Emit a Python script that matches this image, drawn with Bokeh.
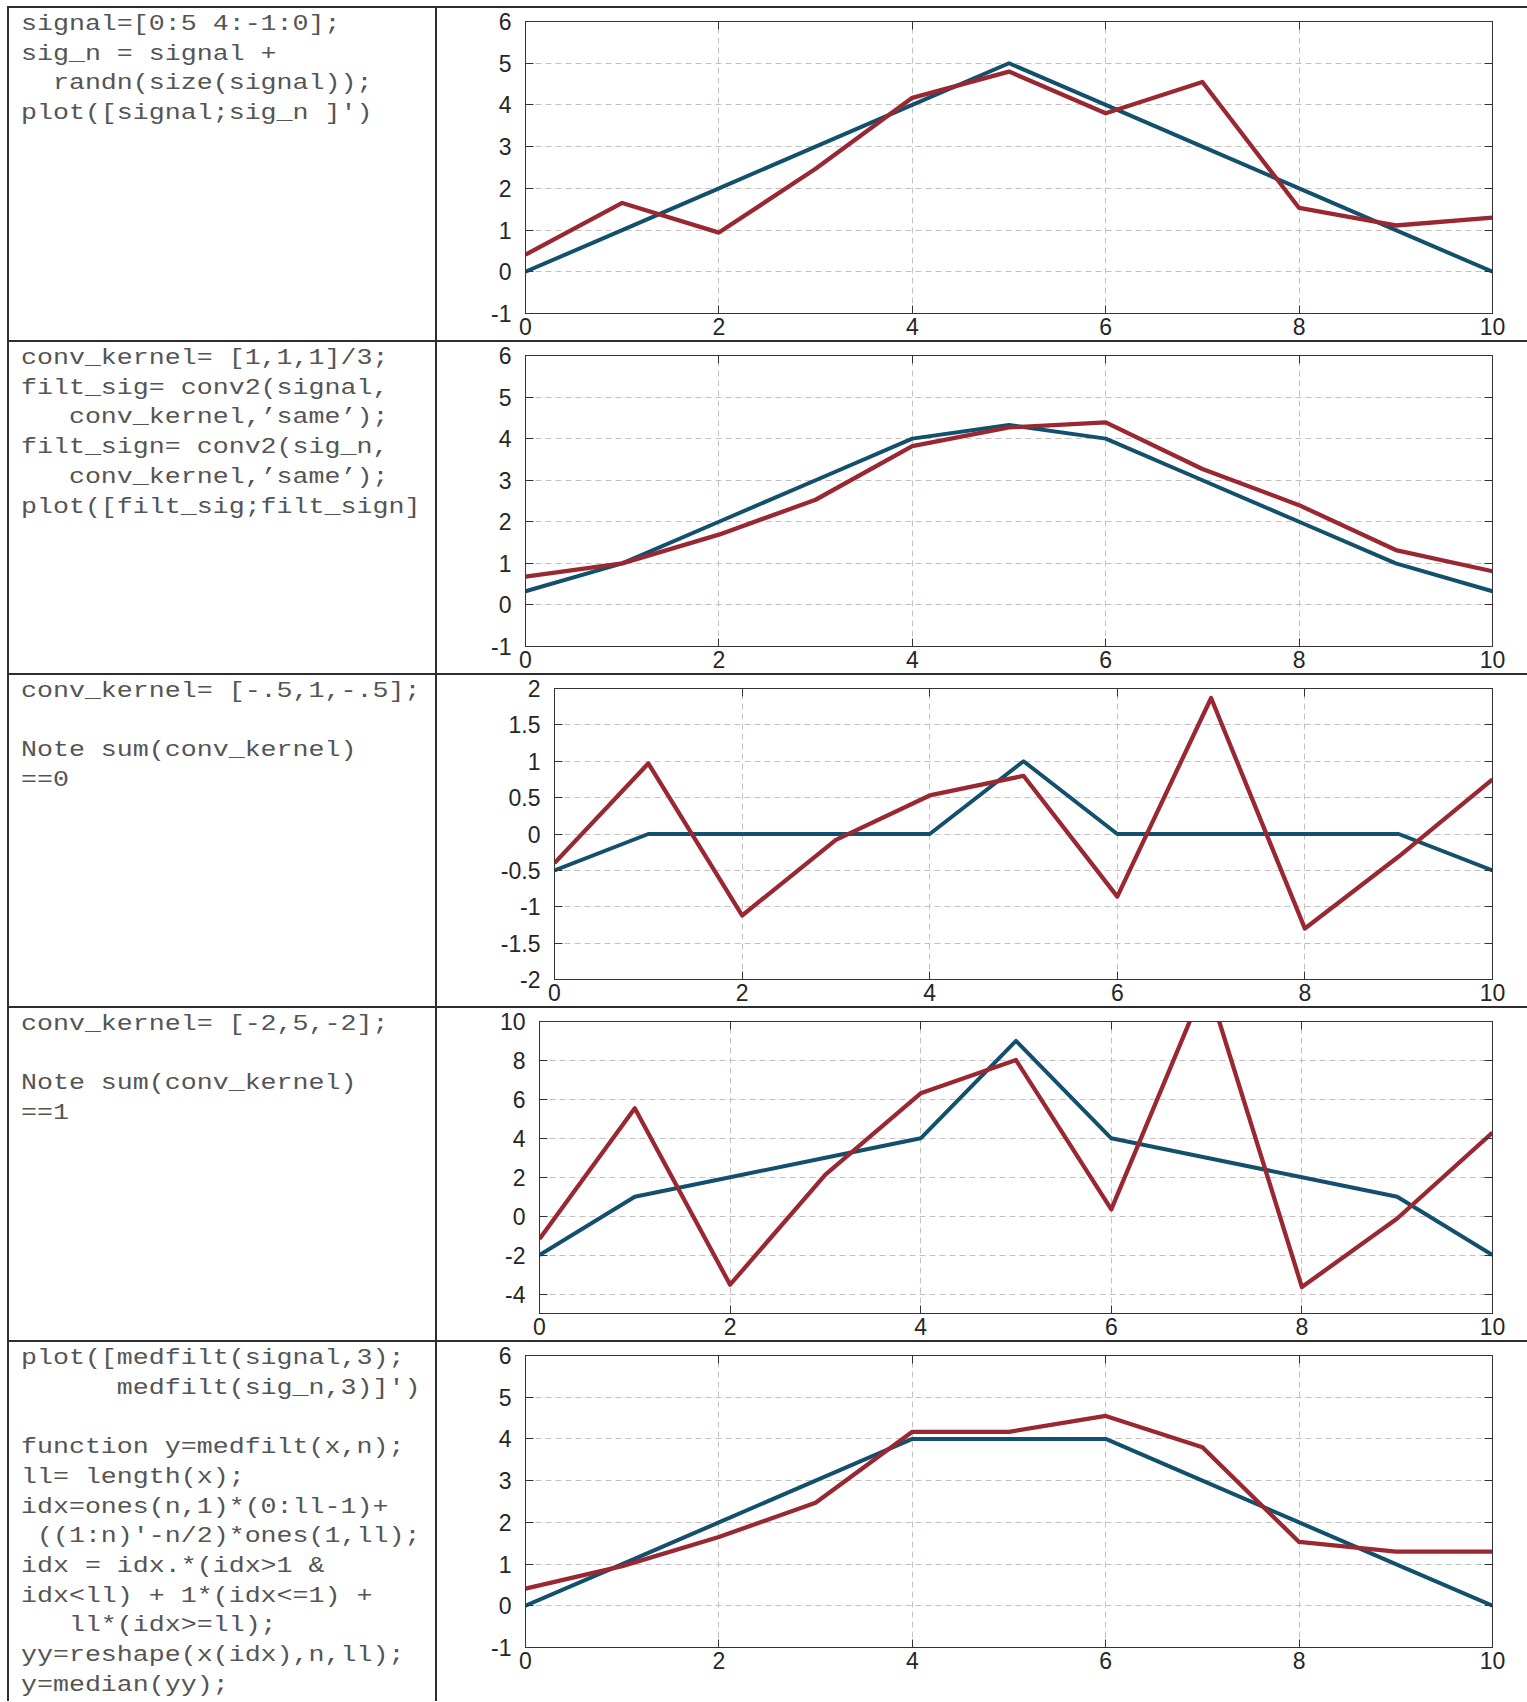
import html
from bokeh.plotting import figure
from bokeh.layouts import column, row
from bokeh.models import Range1d, FixedTicker, LinearAxis, Spacer, Div
from bokeh.embed import file_html
from bokeh.resources import INLINE

# ---------------- data ----------------
x_vals = [0, 1, 2, 3, 4, 5, 6, 7, 8, 9, 10]
x_ticks = [0, 2, 4, 6, 8, 10]

# row 1: signal and noisy signal
signal = [0, 1, 2, 3, 4, 5, 4, 3, 2, 1, 0]
sig_n = [0.41, 1.65, 0.94, 2.47, 4.17, 4.80, 3.80, 4.55, 1.53, 1.11, 1.30]
# row 2: smoothing kernel [1,1,1]/3
filt_sig = [0.33, 1.0, 2.0, 3.0, 4.0, 4.33, 4.0, 3.0, 2.0, 1.0, 0.33]
filt_sign = [0.68, 1.0, 1.69, 2.53, 3.82, 4.27, 4.39, 3.27, 2.40, 1.32, 0.81]
# row 3: kernel [-.5,1,-.5]
edge_sig = [-0.5, 0, 0, 0, 0, 1.0, 0, 0, 0, 0, -0.5]
edge_sign = [-0.40, 0.97, -1.12, -0.08, 0.53, 0.80, -0.86, 1.87, -1.30, -0.31, 0.75]
# row 4: kernel [-2,5,-2]
sharp_sig = [-2, 1, 2, 3, 4, 9, 4, 3, 2, 1, -2]
sharp_sign = [-1.17, 5.54, -3.52, 2.13, 6.31, 8.02, 0.35, 12.08, -3.64, -0.12, 4.29]
# row 5: median filter
med_sig = [0, 1, 2, 3, 4, 4, 4, 3, 2, 1, 0]
med_sign = [0.41, 0.95, 1.65, 2.47, 4.17, 4.17, 4.55, 3.80, 1.53, 1.30, 1.30]

y_ticks_sig = [-1, 0, 1, 2, 3, 4, 5, 6]
y_ticks_edge = [-2, -1.5, -1, -0.5, 0, 0.5, 1, 1.5, 2]
y_ticks_sharp = [-4, -2, 0, 2, 4, 6, 8, 10]

code_row1 = ["signal=[0:5 4:-1:0];",
             "sig_n = signal +",
             "  randn(size(signal));",
             "plot([signal;sig_n ]')"]
code_row2 = ["conv_kernel= [1,1,1]/3;",
             "filt_sig= conv2(signal,",
             "   conv_kernel,\u2019same\u2019);",
             "filt_sign= conv2(sig_n,",
             "   conv_kernel,\u2019same\u2019);",
             "plot([filt_sig;filt_sign]"]
code_row3 = ["conv_kernel= [-.5,1,-.5];",
             "",
             "Note sum(conv_kernel)",
             "==0"]
code_row4 = ["conv_kernel= [-2,5,-2];",
             "",
             "Note sum(conv_kernel)",
             "==1"]
code_row5 = ["plot([medfilt(signal,3);",
             "      medfilt(sig_n,3)]')",
             "",
             "function y=medfilt(x,n);",
             "ll= length(x);",
             "idx=ones(n,1)*(0:ll-1)+",
             " ((1:n)'-n/2)*ones(1,ll);",
             "idx = idx.*(idx>1 &",
             "idx<ll) + 1*(idx<=1) +",
             "   ll*(idx>=ll);",
             "yy=reshape(x(idx),n,ll);",
             "y=median(yy);"]

# ---------------- style ----------------
BLUE = "#12506e"
RED = "#9a2832"
BORDER = "#2e2e2e"
FRAME = "#333333"
GRID = "#c4c0c0"
LEFT_PAD = 7
TABLE_W = 1520
TEXT_W = 426
PLOT_W = 1090
TICK_FONT = "23px"


def hborder():
    return row(Spacer(width=LEFT_PAD, height=2),
               Spacer(width=TABLE_W, height=2, styles={"background-color": BORDER}))


def vborder(h):
    return Spacer(width=2, height=h, styles={"background-color": BORDER})


def text_cell(lines, h):
    body = "\n".join(html.escape(ln) for ln in lines)
    inner = ('<div style="margin:0;padding:2px 0 0 12px;">'
             '<div style="margin:0;padding:0;font-family:\'Liberation Mono\',monospace;'
             'font-size:22px;line-height:29.7px;color:#555555;white-space:pre;'
             'transform:scaleX(1.21);transform-origin:0 0;">%s</div></div>' % body)
    return Div(text=inner, width=TEXT_W, height=h, margin=0,
               styles={"background-color": "white", "overflow": "hidden"})


def fmt(v):
    return "%g" % v


def plot_cell(h, top, bottom, left, yr, yticks, blue, red):
    p = figure(width=PLOT_W, height=h, output_backend="svg", toolbar_location=None,
               x_range=Range1d(0, 10), y_range=Range1d(yr[0], yr[1]),
               min_border_left=left, min_border_right=35,
               min_border_top=top, min_border_bottom=bottom,
               background_fill_color="white", border_fill_color="white",
               outline_line_color=FRAME, outline_line_width=1)
    p.line(x_vals, blue, line_color=BLUE, line_width=4, line_join="round")
    p.line(x_vals, red, line_color=RED, line_width=4.3, line_join="round")

    p.xaxis.ticker = FixedTicker(ticks=x_ticks, minor_ticks=[])
    p.yaxis.ticker = FixedTicker(ticks=yticks, minor_ticks=[])
    p.xaxis.major_label_overrides = {t: fmt(t) for t in x_ticks}
    p.yaxis.major_label_overrides = {t: fmt(t) for t in yticks}
    for ax in (p.xaxis[0], p.yaxis[0]):
        ax.major_label_text_font = "Liberation Sans"
        ax.major_label_text_font_size = TICK_FONT
        ax.major_label_text_color = "#262626"
        ax.axis_line_color = FRAME
        ax.major_tick_line_color = FRAME
        ax.major_tick_in = 8
        ax.major_tick_out = 0
        ax.minor_tick_line_color = None
    p.xaxis.major_label_standoff = 4
    p.yaxis.major_label_standoff = 14

    for loc, tks in (("above", x_ticks), ("right", yticks)):
        ax = LinearAxis(ticker=FixedTicker(ticks=tks, minor_ticks=[]),
                        major_label_text_font_size="1px", major_label_text_color=None,
                        major_label_standoff=0,
                        major_tick_in=8, major_tick_out=0,
                        minor_tick_line_color=None,
                        axis_line_color=FRAME, major_tick_line_color=FRAME)
        p.add_layout(ax, loc)

    p.grid.grid_line_color = GRID
    p.grid.grid_line_dash = "6 4"
    p.grid.grid_line_width = 1
    return p


rows_spec = [
    # height, top, bottom, left, y range, y ticks, blue, red, code
    (332, 13, 27, 88, (-1, 6), y_ticks_sig, signal, sig_n, code_row1),
    (331, 13, 27, 88, (-1, 6), y_ticks_sig, filt_sig, filt_sign, code_row2),
    (331, 13, 27, 117, (-2, 2), y_ticks_edge, edge_sig, edge_sign, code_row3),
    (332, 13, 27, 102, (-5, 10), y_ticks_sharp, sharp_sig, sharp_sign, code_row4),
    (359, 13, 54, 88, (-1, 6), y_ticks_sig, med_sig, med_sign, code_row5),
]

children = [Spacer(width=LEFT_PAD + TABLE_W, height=6), hborder()]
for i, (h, t, b, l, yr, ytk, bl, rd, code) in enumerate(rows_spec):
    children.append(row(Spacer(width=LEFT_PAD, height=h), vborder(h),
                        text_cell(code, h), vborder(h),
                        plot_cell(h, t, b, l, yr, ytk, bl, rd)))
    if i < len(rows_spec) - 1:
        children.append(hborder())

layout = column(children)

open("out.html", "w").write(file_html(layout, INLINE))
